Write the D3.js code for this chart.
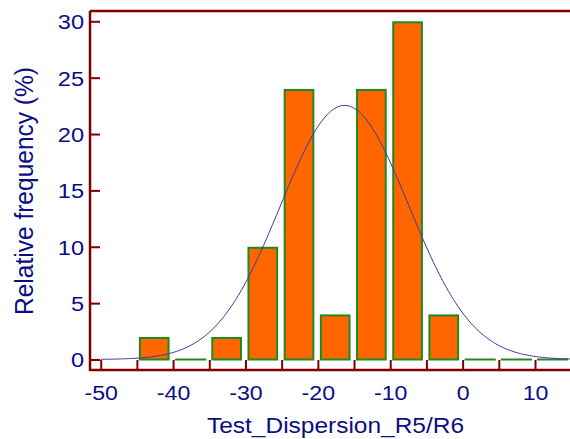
<!DOCTYPE html>
<html>
<head>
<meta charset="utf-8">
<script src="https://cdn.jsdelivr.net/npm/d3@7"></script>
<style>
html,body{margin:0;padding:0;background:#fff;}
svg{display:block;}
</style>
</head>
<body>
<svg id="chart" width="570" height="439"></svg>
<script>
// Histogram bins (lower edge, upper edge) and relative frequency (%)
const binStarts = [-45, -40, -35, -30, -25, -20, -15, -10, -5, 0, 5, 10];
const binWidth = 5;
const frequencies = [2, 0, 2, 10, 24, 4, 24, 30, 4, 0, 0, 0];
// Fitted normal curve parameters
const fitMean = -16.3;
const fitSD = 8.85;
const yTicks = [0, 5, 10, 15, 20, 25, 30];
const xTicks = [-50, -45, -40, -35, -30, -25, -20, -15, -10, -5, 0, 5, 10, 15];
const xLabels = [-50, -40, -30, -20, -10, 0, 10];
const xTitle = "Test_Dispersion_R5/R6";
const yTitle = "Relative frequency (%)";

const navy = "#0c0c86";
const axisColor = "#800000";
const fontFam = "'Liberation Sans', Arial, sans-serif";
const svg = d3.select("#chart");

const x = d3.scaleLinear().domain([-50, 10]).range([100.7, 535]);
const y = d3.scaleLinear().domain([0, 30]).range([359.5, 21.3]);

const frameLeft = 90, frameBottom = 370, frameTop = 11, frameRight = 570;

function stretch(sel, factor) {
  sel.each(function() {
    const w = this.getComputedTextLength();
    if (w > 0) d3.select(this).attr("textLength", w * factor).attr("lengthAdjust", "spacingAndGlyphs");
  });
}

// Bars
const bins = binStarts.map((s, i) => ({x0: s, x1: s + binWidth, v: frequencies[i]}));
const barG = svg.append("g");
bins.filter(d => d.v > 0).forEach(d => {
  barG.append("rect")
    .attr("x", x(d.x0) + 3)
    .attr("y", y(d.v) + 1)
    .attr("width", x(d.x1) - x(d.x0) - 7.5)
    .attr("height", y(0) - y(d.v) - 1)
    .attr("fill", "#ff6600")
    .attr("stroke", "#1f8a1f")
    .attr("stroke-width", 2);
});
bins.filter(d => d.v === 0).forEach(d => {
  barG.append("line")
    .attr("x1", x(d.x0) + 2).attr("x2", x(d.x1) - 3)
    .attr("y1", y(0)).attr("y2", y(0))
    .attr("stroke", "#1f8a1f").attr("stroke-width", 2);
});

// Normal curve
const pdf = v => 100 * binWidth * Math.exp(-0.5 * ((v - fitMean) / fitSD) ** 2) / (fitSD * Math.sqrt(2 * Math.PI));
const curvePts = d3.range(-50, 15.001, 0.25).map(v => [v, pdf(v)]);
svg.append("path")
  .datum(curvePts)
  .attr("fill", "none")
  .attr("stroke", "#3a3aa8")
  .attr("stroke-width", 1)
  .attr("d", d3.line().x(d => x(d[0])).y(d => y(d[1])));

// Axes
const yAxis = d3.axisLeft(y).tickValues(yTicks).tickSize(-10).tickSizeOuter(0).tickPadding(6);
const yg = svg.append("g").attr("transform", `translate(${frameLeft},0)`).call(yAxis);
const xAxis = d3.axisBottom(x).tickValues(xTicks).tickSize(-10).tickSizeOuter(0).tickPadding(15)
  .tickFormat(d => xLabels.includes(d) ? (d < 0 ? "-" + Math.abs(d) : String(d)) : "");
const xg = svg.append("g").attr("transform", `translate(0,${frameBottom})`).call(xAxis);

[yg, xg].forEach(g => {
  g.select(".domain").remove();
  g.selectAll(".tick line").attr("stroke", axisColor).attr("stroke-width", 2);
  g.selectAll(".tick text").attr("fill", navy)
    .style("font-family", fontFam)
    .style("font-size", "20.5px");
});
yg.selectAll(".tick text").attr("dy", "0.36em");
stretch(yg.selectAll(".tick text"), 1.15);
stretch(xg.selectAll(".tick text"), 1.13);

// Frame lines
const frame = svg.append("g").attr("stroke", axisColor).attr("stroke-width", 2.5).attr("fill", "none");
frame.append("line").attr("x1", frameLeft).attr("x2", frameLeft).attr("y1", frameTop).attr("y2", frameBottom + 1);
frame.append("line").attr("x1", frameLeft).attr("x2", frameRight).attr("y1", frameBottom).attr("y2", frameBottom);
frame.append("line").attr("x1", frameLeft).attr("x2", frameRight).attr("y1", frameTop).attr("y2", frameTop);

// Titles
svg.append("text")
  .attr("x", 335.5).attr("y", 433)
  .attr("text-anchor", "middle")
  .attr("fill", navy)
  .style("font-family", fontFam)
  .style("font-size", "22px")
  .attr("textLength", 257).attr("lengthAdjust", "spacingAndGlyphs")
  .text(xTitle);
svg.append("text")
  .attr("transform", "translate(32.5,191) rotate(-90)")
  .attr("text-anchor", "middle")
  .attr("fill", navy)
  .style("font-family", fontFam)
  .style("font-size", "25px")
  .attr("textLength", 248).attr("lengthAdjust", "spacingAndGlyphs")
  .text(yTitle);
</script>
</body>
</html>
